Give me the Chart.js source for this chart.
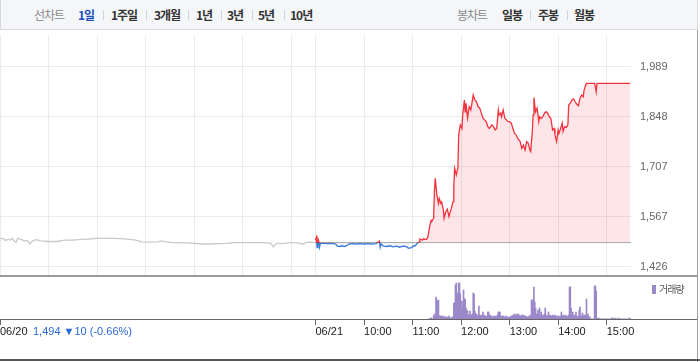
<!DOCTYPE html>
<html lang="ko">
<head>
<meta charset="utf-8">
<script src="https://cdn.jsdelivr.net/npm/chart.js@4.4.1/dist/chart.umd.min.js"></script>
<style>
    body { margin: 0; background: #fff; }
    #wrap { position: relative; width: 700px; height: 362px; overflow: hidden; font-family: "Liberation Sans", Arial, sans-serif; }
    #topo { position: absolute; left: 0; top: 0; width: 696px; height: 29px; background: #f5f6f8; border: 1px solid #d7d9dd; border-top: none; }
    #topo span { position: absolute; top: 7px; font: bold 12px "Noto Sans CJK KR", sans-serif; letter-spacing: -1px; line-height: 16px; color: #333; white-space: nowrap; }
    #topo span.cinza { font-weight: normal; color: #8a8a8a; }
    #topo span.ativo { color: #2450b8; }
    #topo i { position: absolute; top: 10px; width: 1px; height: 10px; background: #d4d4d4; }
    #cPreco { position: absolute; left: 0; top: 36px; }
    #cVolume { position: absolute; left: 0; top: 278px; }
    .linha { position: absolute; }
    #legenda { position: absolute; left: 652px; top: 283px; font: 10px "Noto Sans CJK KR", sans-serif; letter-spacing: -1px; color: #555; line-height: 12px; }
    #legenda b { display: inline-block; width: 4px; height: 9px; background: #9b88c9; margin-right: 3px; vertical-align: -1px; }
    #variacao { position: absolute; left: 33px; top: 324px; font-size: 11px; line-height: 14px; color: #2a68d8; white-space: nowrap; }
</style>
</head>
<body>
<div id="wrap">
    <div id="topo">
        <span class="cinza" style="left:33px">선차트</span>
        <span class="ativo" style="left:77px">1일</span><i style="left:102px"></i>
        <span style="left:110px">1주일</span><i style="left:145px"></i>
        <span style="left:153px">3개월</span><i style="left:187px"></i>
        <span style="left:195px">1년</span><i style="left:220px"></i>
        <span style="left:226px">3년</span><i style="left:251px"></i>
        <span style="left:257px">5년</span><i style="left:283px"></i>
        <span style="left:289px">10년</span>
        <span class="cinza" style="left:456px">봉차트</span>
        <span style="left:501px">일봉</span><i style="left:529px"></i>
        <span style="left:537px">주봉</span><i style="left:566px"></i>
        <span style="left:573px">월봉</span>
    </div>
    <canvas id="cPreco" width="697" height="240"></canvas>
    <div class="linha" style="left:0;top:275px;width:698px;height:2px;background:#9a9a9a"></div>
    <canvas id="cVolume" width="697" height="70"></canvas>
    <div id="legenda"><b></b>거래량</div>
    <div id="variacao">1,494 ▼10 (-0.66%)</div>
    <div class="linha" style="left:697px;top:30px;width:1px;height:332px;background:#a0a0a0"></div>
    <div class="linha" style="left:0;top:359px;width:700px;height:2px;background:#5a5a5a"></div>
</div>
<script>
// Fechamento anterior (06/20)
const fechamentoAnterior = 1494;

// 06/20: minutos desde 09:00 e preço
const ontemMin = [0, 4, 7, 10, 13, 15, 17, 20, 22, 26, 30, 34, 37, 40, 45, 50, 60, 70, 80, 90, 100, 110, 120, 130, 140, 150, 160, 168, 175, 185, 195, 200, 205, 212, 220, 230, 240, 250, 260, 270, 280, 290, 300, 310, 320, 330, 335, 337, 338, 340, 343, 350, 355, 360, 365, 370, 374, 378, 383, 390];
const ontemPreco = [1506, 1505, 1500, 1503, 1501, 1506, 1499, 1495, 1506, 1503, 1499, 1500, 1490, 1498, 1502, 1499, 1497, 1497, 1501, 1501, 1503, 1504, 1506, 1506, 1506, 1505, 1503, 1501, 1496, 1495, 1496, 1499, 1496, 1494, 1494, 1493, 1492, 1490, 1490, 1491, 1492, 1494, 1494, 1494, 1494, 1493, 1492, 1485, 1482, 1488, 1492, 1491, 1493, 1494, 1494, 1492, 1490, 1494, 1495, 1494];

// 06/21: minutos desde 09:00 e preço
const hojeMin = [0, 1, 2, 3, 4, 5, 6, 10, 14, 18, 22, 25, 27, 30, 33, 36, 39, 41, 45, 50, 55, 60, 65, 70, 75, 78, 79, 80, 81, 82, 84, 88, 92, 96, 100, 104, 108, 112, 115, 117, 119, 121, 123, 125, 128, 129, 132, 134, 135, 137, 139, 141, 143, 144, 146, 147, 148, 150, 152, 153, 155, 156, 158, 159, 161, 163, 165, 166, 168, 170, 171, 172, 174, 176, 177, 179, 181, 182, 184, 185, 186, 188, 190, 192, 195, 197, 199, 201, 203, 205, 207, 209, 211, 213, 215, 218, 220, 222, 224, 226, 227, 229, 230, 232, 234, 236, 238, 240, 242, 244, 246, 248, 250, 253, 255, 257, 259, 261, 263, 265, 266, 268, 269, 270, 272, 274, 276, 277, 279, 281, 283, 285, 287, 289, 291, 293, 295, 296, 298, 300, 301, 303, 305, 306, 308, 310, 312, 313, 315, 317, 319, 321, 323, 325, 327, 329, 331, 332, 334, 335, 345, 347, 348, 389];
const hojePreco = [1500, 1508, 1480, 1505, 1499, 1481, 1492, 1492, 1491, 1492, 1491, 1490, 1484, 1483, 1485, 1483, 1486, 1490, 1491, 1490, 1491, 1490, 1491, 1490, 1491, 1496, 1498, 1481, 1490, 1488, 1484, 1483, 1485, 1482, 1484, 1481, 1484, 1483, 1478, 1479, 1480, 1485, 1484, 1490, 1496, 1504, 1501, 1505, 1503, 1503, 1510, 1538, 1557, 1555, 1562, 1637, 1675, 1628, 1604, 1618, 1604, 1608, 1586, 1562, 1581, 1588, 1567, 1576, 1590, 1609, 1656, 1703, 1684, 1703, 1797, 1825, 1815, 1853, 1895, 1862, 1886, 1844, 1876, 1867, 1909, 1895, 1890, 1876, 1872, 1858, 1844, 1839, 1834, 1820, 1815, 1825, 1820, 1811, 1815, 1867, 1853, 1858, 1848, 1867, 1844, 1839, 1834, 1834, 1830, 1815, 1801, 1797, 1787, 1778, 1759, 1768, 1754, 1778, 1773, 1754, 1750, 1806, 1853, 1902, 1862, 1872, 1834, 1848, 1843, 1848, 1858, 1862, 1858, 1848, 1843, 1811, 1815, 1797, 1778, 1811, 1801, 1815, 1830, 1806, 1820, 1818, 1825, 1881, 1886, 1895, 1898, 1890, 1883, 1879, 1900, 1909, 1904, 1923, 1937, 1942, 1942, 1918, 1942, 1942];

// Volume (mil ações) por minuto a partir das 11:20 (minuto 140)
const volumeInicio = 140;
const volumeMil = [
    0, 0, 1, 1, 0, 0, 3, 5, 2, 22,
    19, 18, 19, 3, 3, 3, 3, 2, 3, 2,
    2, 2, 2, 1, 2, 3, 1, 1, 1, 2,
    1, 16, 16, 34, 36, 20, 26, 36, 36, 25,
    10, 18, 11, 29, 20, 20, 11, 9, 8, 4,
    4, 8, 4, 4, 5, 26, 25, 8, 5, 5,
    3, 4, 13, 4, 3, 4, 3, 7, 3, 4,
    3, 2, 3, 7, 7, 3, 4, 2, 3, 2,
    2, 3, 2, 3, 2, 4, 7, 7, 7, 3,
    2, 3, 3, 2, 2, 3, 2, 2, 2, 1,
    2, 2, 3, 3, 4, 3, 5, 4, 3, 5,
    4, 5, 3, 3, 3, 4, 3, 4, 3, 3,
    3, 2, 2, 2, 3, 3, 4, 19, 19, 12,
    32, 17, 11, 5, 4, 9, 4, 11, 4, 7,
    3, 4, 3, 5, 11, 4, 3, 3, 7, 3,
    4, 2, 3, 4, 3, 3, 4, 3, 2, 3,
    2, 3, 2, 3, 7, 3, 4, 3, 3, 4,
    3, 2, 3, 4, 32, 32, 11, 4, 7, 3,
    4, 3, 7, 3, 2, 3, 9, 12, 3, 3,
    6, 3, 4, 3, 4, 20, 3, 5, 2, 2,
    0, 0, 0, 0, 0, 33, 33, 28, 1, 0,
    1, 0, 0, 0, 0, 0, 0, 0, 0, 0,
    0, 0, 0, 0, 0, 0, 1, 0, 1, 0,
    0, 1, 0, 0, 0, 1, 0, 0, 0, 0,
    0, 0, 0, 0, 0, 0, 0, 0, 1, 0
];

// Eixos
const linhasGrade = [0, 60, 120, 180, 240, 300, 360, 390, 450, 510, 570, 630, 690, 750];
const ticksEixoMin = [0, 390, 450, 510, 570, 630, 690, 750];
const ticksEixoTexto = ['06/20', '06/21', '10:00', '11:00', '12:00', '13:00', '14:00', '15:00'];
const ticksPreco = [1426, 1567, 1707, 1848, 1989];

const vermelho = '#f2323c';
const azul = '#3a7ad8';
const fonte = { family: '"Liberation Sans", Arial, sans-serif', size: 11 };

function corLinha(context) {
    const chart = context.chart;
    const area = chart.chartArea;
    if (!area) return vermelho;
    const y = chart.scales.y.getPixelForValue(fechamentoAnterior);
    const s = Math.min(1, Math.max(0, (y - area.top) / (area.bottom - area.top)));
    const g = chart.ctx.createLinearGradient(0, area.top, 0, area.bottom);
    g.addColorStop(0, vermelho);
    g.addColorStop(s, vermelho);
    g.addColorStop(s, azul);
    g.addColorStop(1, azul);
    return g;
}

const graficoPreco = new Chart(document.getElementById('cPreco').getContext('2d'), {
    type: 'line',
    data: {
        datasets: [
            {
                data: [{ x: 390, y: fechamentoAnterior }, { x: 780, y: fechamentoAnterior }],
                borderColor: '#555',
                borderWidth: 1,
                borderDash: [1, 1],
                pointRadius: 0,
                fill: false
            },
            {
                data: hojeMin.map((m, i) => ({ x: 390 + m, y: hojePreco[i] })),
                borderColor: corLinha,
                borderWidth: 1.3,
                pointRadius: 0,
                tension: 0,
                fill: {
                    target: { value: fechamentoAnterior },
                    above: 'rgba(245,70,90,0.14)',
                    below: 'rgba(60,120,220,0.06)'
                }
            },
            {
                data: ontemMin.map((m, i) => ({ x: m, y: ontemPreco[i] })),
                borderColor: '#c9c9c9',
                borderWidth: 1.3,
                pointRadius: 0,
                tension: 0,
                fill: false
            }
        ]
    },
    options: {
        responsive: false,
        animation: false,
        events: [],
        layout: { padding: 0 },
        plugins: { legend: { display: false }, tooltip: { enabled: false } },
        scales: {
            x: {
                type: 'linear',
                min: 0,
                max: 780,
                afterBuildTicks: s => { s.ticks = linhasGrade.map(v => ({ value: v })); },
                afterFit: s => { s.height = 0; s.paddingLeft = 0; s.paddingRight = 0; },
                ticks: { display: false },
                border: { display: false },
                grid: { color: '#ebebeb', drawTicks: false }
            },
            y: {
                position: 'right',
                min: 1400,
                max: 2075,
                afterBuildTicks: s => { s.ticks = ticksPreco.map(v => ({ value: v })); },
                afterFit: s => { s.width = 66; s.paddingTop = 0; s.paddingBottom = 0; },
                ticks: {
                    padding: 9,
                    color: '#666',
                    font: fonte,
                    callback: v => v.toLocaleString('en-US')
                },
                border: { display: false },
                grid: { color: '#ebebeb', drawTicks: false }
            }
        }
    }
});

const volumeDados = volumeMil.map((v, i) => ({ x: 390 + volumeInicio + i, y: v }));

const graficoVolume = new Chart(document.getElementById('cVolume').getContext('2d'), {
    type: 'bar',
    data: {
        datasets: [{
            data: volumeDados,
            backgroundColor: '#9b88c9',
            barThickness: 1,
            borderWidth: 0
        }]
    },
    options: {
        responsive: false,
        animation: false,
        events: [],
        layout: { padding: 0 },
        plugins: { legend: { display: false }, tooltip: { enabled: false } },
        scales: {
            x: {
                type: 'linear',
                offset: false,
                min: 0,
                max: 780 * 697 / 631,
                afterBuildTicks: s => { s.ticks = ticksEixoMin.map(v => ({ value: v })); },
                afterFit: s => { s.height = 29; s.paddingLeft = 0; s.paddingRight = 0; },
                ticks: {
                    align: 'start',
                    padding: 0,
                    maxRotation: 0,
                    autoSkip: false,
                    color: '#222',
                    font: fonte,
                    callback: v => ticksEixoTexto[ticksEixoMin.indexOf(v)]
                },
                border: { color: '#666', width: 1 },
                grid: { offset: false, drawOnChartArea: false, tickLength: 6, color: '#666' }
            },
            y: {
                display: false,
                min: 0,
                max: 41
            }
        }
    }
});
</script>
</body>
</html>
